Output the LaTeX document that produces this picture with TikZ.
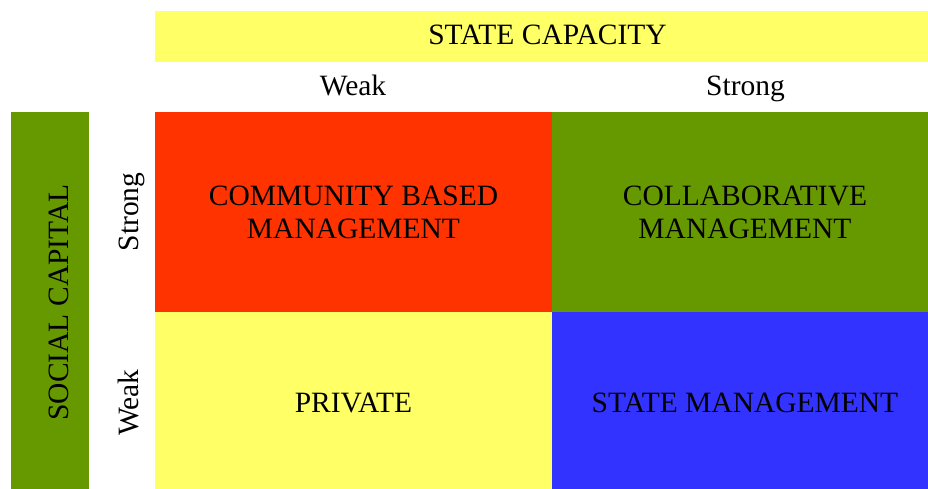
\documentclass[tikz,border=0pt]{standalone}
\usepackage{fontspec}
\setmainfont{Liberation Serif}
\usepackage{tikz}

\definecolor{paleyellow}{HTML}{FFFF66}
\definecolor{hotred}{HTML}{FF3300}
\definecolor{olive}{HTML}{669900}
\definecolor{royal}{HTML}{3333FF}

\begin{document}
\begin{tikzpicture}[x=1pt,y=-1pt,
    every node/.style={font=\fontsize{29.5}{33}\selectfont, inner sep=0pt, align=center},
    cell/.style={minimum width=397pt, minimum height=200pt}]
  \clip (0,0) rectangle (928,488);
  \fill[white] (0,0) rectangle (928,488);

  % Axis bars
  \fill[paleyellow] (155,11) rectangle (938,62);
  \fill[olive] (11,112) rectangle (89,498);
  \node[anchor=base] (capacity) at (547.5,44) {STATE CAPACITY};
  \node[anchor=base, rotate=90] (social) at (68,302.5) {SOCIAL CAPITAL};

  % Axis levels
  \node[anchor=base] (colweak) at (353,95.5) {Weak};
  \node[anchor=base] (colstrong) at (745.5,95.5) {Strong};
  \node[anchor=base, rotate=90] (rowstrong) at (138,212) {Strong};
  \node[anchor=base, rotate=90] (rowweak) at (138,402.5) {Weak};

  % The four quadrants
  \node[cell, fill=hotred] (community) at (353.5,212) {COMMUNITY BASED\\MANAGEMENT};
  \node[cell, fill=olive, minimum width=386pt] (collab) at (745,212) {COLLABORATIVE\\MANAGEMENT};
  \node[cell, fill=paleyellow, minimum height=182pt] (private) at (353.5,403) {PRIVATE};
  \node[cell, fill=royal, minimum width=386pt, minimum height=182pt] (statemgmt) at (745,403) {STATE MANAGEMENT};

\end{tikzpicture}
\end{document}
